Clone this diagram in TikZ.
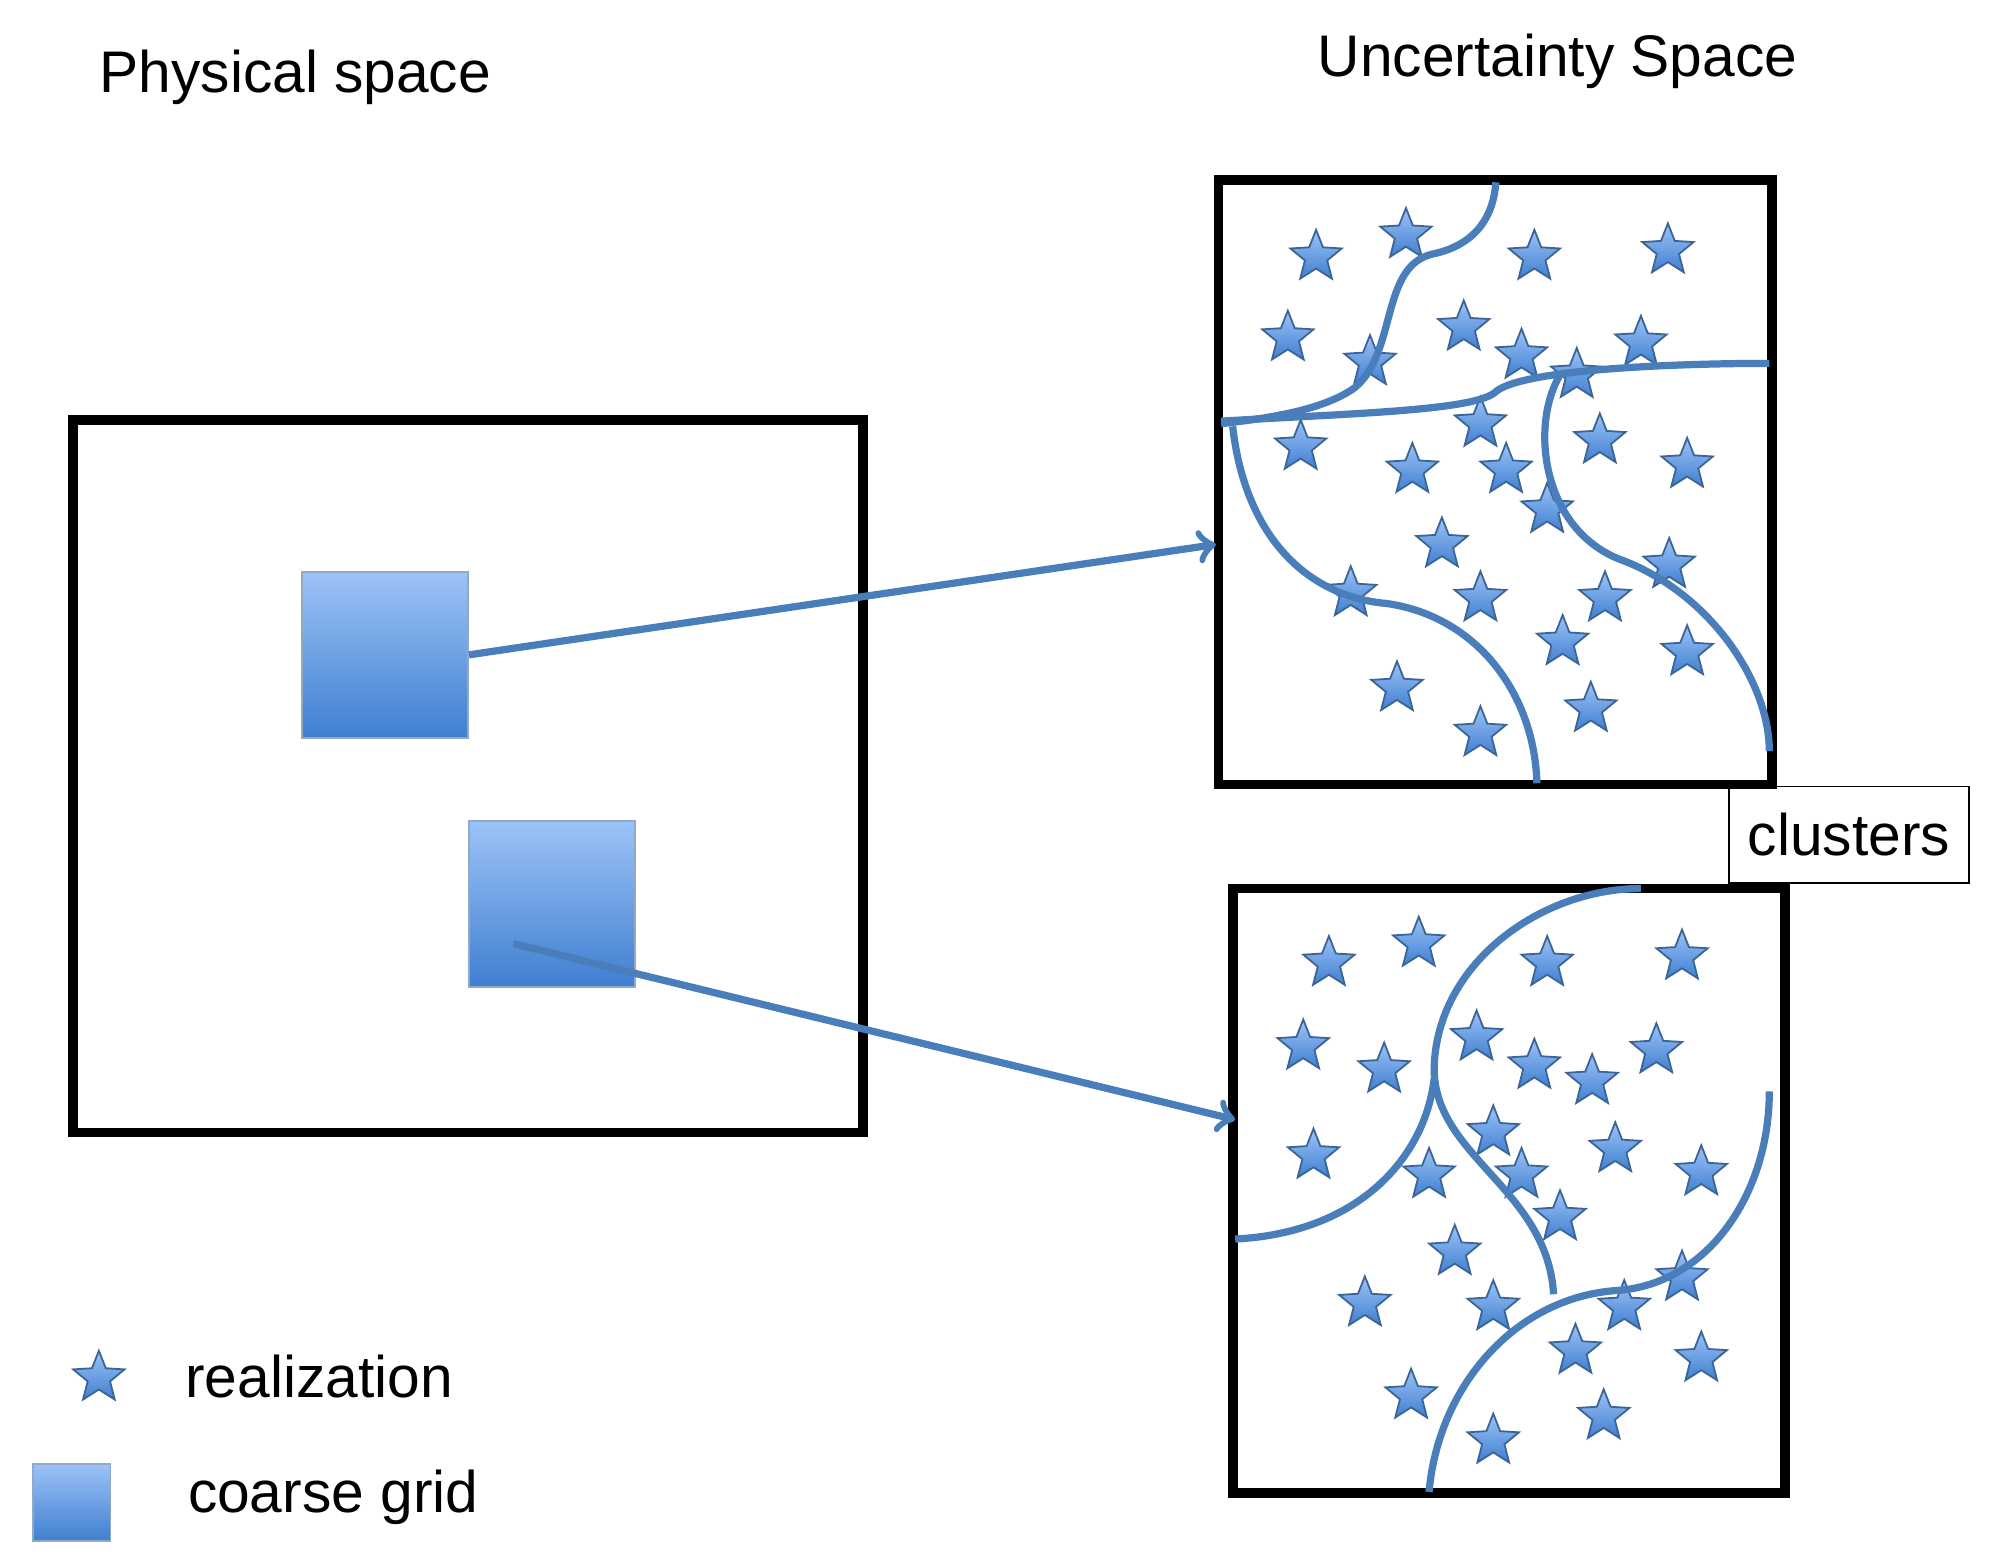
\documentclass[tikz,border=0pt]{standalone}
\usepackage{fontspec}
\setmainfont{Liberation Sans}
\usetikzlibrary{shapes.geometric,positioning,calc}
\definecolor{pblue}{HTML}{4A7EBB}
\definecolor{plight}{HTML}{9DC3F7}
\definecolor{pdark}{HTML}{3F7FD0}
\tikzset{
  frame/.style={draw=black,line width=2.2pt,inner sep=0pt},
  cell/.style={draw=plight!60!gray,top color=plight,bottom color=pdark,minimum size=1.29cm,inner sep=0pt},
  real/.style={star,star points=5,star point ratio=2.3,draw=pblue!80!black,thin,top color=plight,bottom color=pdark,minimum size=0.42cm,inner sep=0pt},
  cut/.style={pblue,line width=1.6pt},
  link/.style={->,pblue,line width=1.6pt},
  lbl/.style={font=\fontsize{13}{15}\selectfont}
}
\begin{document}
\begin{tikzpicture}[x=0.01cm,y=-0.01cm]
    \useasboundingbox (0,0) rectangle (1560,1220);

    \node[lbl] (tphys) at (230,60) {Physical space};
    \node[lbl] (tunc) at (1213,48) {Uncertainty Space};

    \draw[frame] (57,327) rectangle (672,882);
    \node[cell] (sqA) at (300,510) {};
    \node[cell] (sqB) at (430,704) {};

    \draw[frame] (949,140) rectangle (1380,611);
    \draw[frame] (960,692) rectangle (1390,1163);

    \node[draw,thin,lbl,minimum width=1.87cm,minimum height=0.75cm] (tclus) at (1440,650) {clusters};

    % realizations, upper box
    \foreach \x/\y in {1025/200,1095/183,1195/200,1299/195,1003/263,1140/255,1067/282,1185/277,1228/292,1278/267,
        1153/330,1013/348,1100/366,1173/366,1246/343,1314/362,1205/397,1123/424,1052/462,1153/466,1250/466,
        1300/440,1217/500,1314/508,1088/536,1153/571,1239/552}
        \node[real] at (\x,\y) {};
    % realizations, lower box
    \foreach \x/\y in {1035/750,1105/735,1205/750,1310/745,1015/815,1078/833,1150/808,1195/830,1240/842,1290/818,
        1163/882,1023/900,1113/915,1185/915,1258/895,1325/913,1215/948,1133/975,1063/1015,1163/1018,1265/1018,
        1310/995,1227/1052,1325/1058,1099/1087,1163/1122,1249/1103}
        \node[real] at (\x,\y) {};

    % cluster boundaries
    \draw[cut] (1165,142) .. controls (1162,185) and (1130,195) .. (1115,198) .. controls (1075,208) and (1088,275) .. (1055,302) .. controls (1030,320) and (985,326) .. (951,330);
    \draw[cut] (951,328) .. controls (1050,322) and (1150,320) .. (1165,305) .. controls (1185,288) and (1300,283) .. (1378,283);
    \draw[cut] (960,332) .. controls (970,420) and (1020,465) .. (1080,470) .. controls (1150,480) and (1195,540) .. (1197,610);
    \draw[cut] (1215,292) .. controls (1192,330) and (1200,410) .. (1260,435) .. controls (1330,460) and (1378,530) .. (1378,585);

    \draw[cut] (1278,692) .. controls (1200,692) and (1120,750) .. (1117,830) .. controls (1115,900) and (1205,925) .. (1210,1008);
    \draw[cut] (962,965) .. controls (1060,960) and (1110,900) .. (1117,840);
    \draw[cut] (1113,1162) .. controls (1120,1080) and (1180,1010) .. (1260,1005) .. controls (1330,1000) and (1378,930) .. (1378,850);

    \coordinate (inU) at (947,424);
    \coordinate (inL) at (962,872);
    \coordinate (outB) at (400,735);
    \draw[link] (sqA.east) -- (inU);
    \draw[link] (outB) -- (inL);

    % legend
    \node[real] (kstar) at (77,1073) {};
    \node[lbl,anchor=west] (treal) at (132,1072) {realization};
    \node[cell,minimum size=0.6cm] (kcell) at (56,1170) {};
    \node[lbl,anchor=west] (tgrid) at (134,1166) {coarse grid};
\end{tikzpicture}
\end{document}
